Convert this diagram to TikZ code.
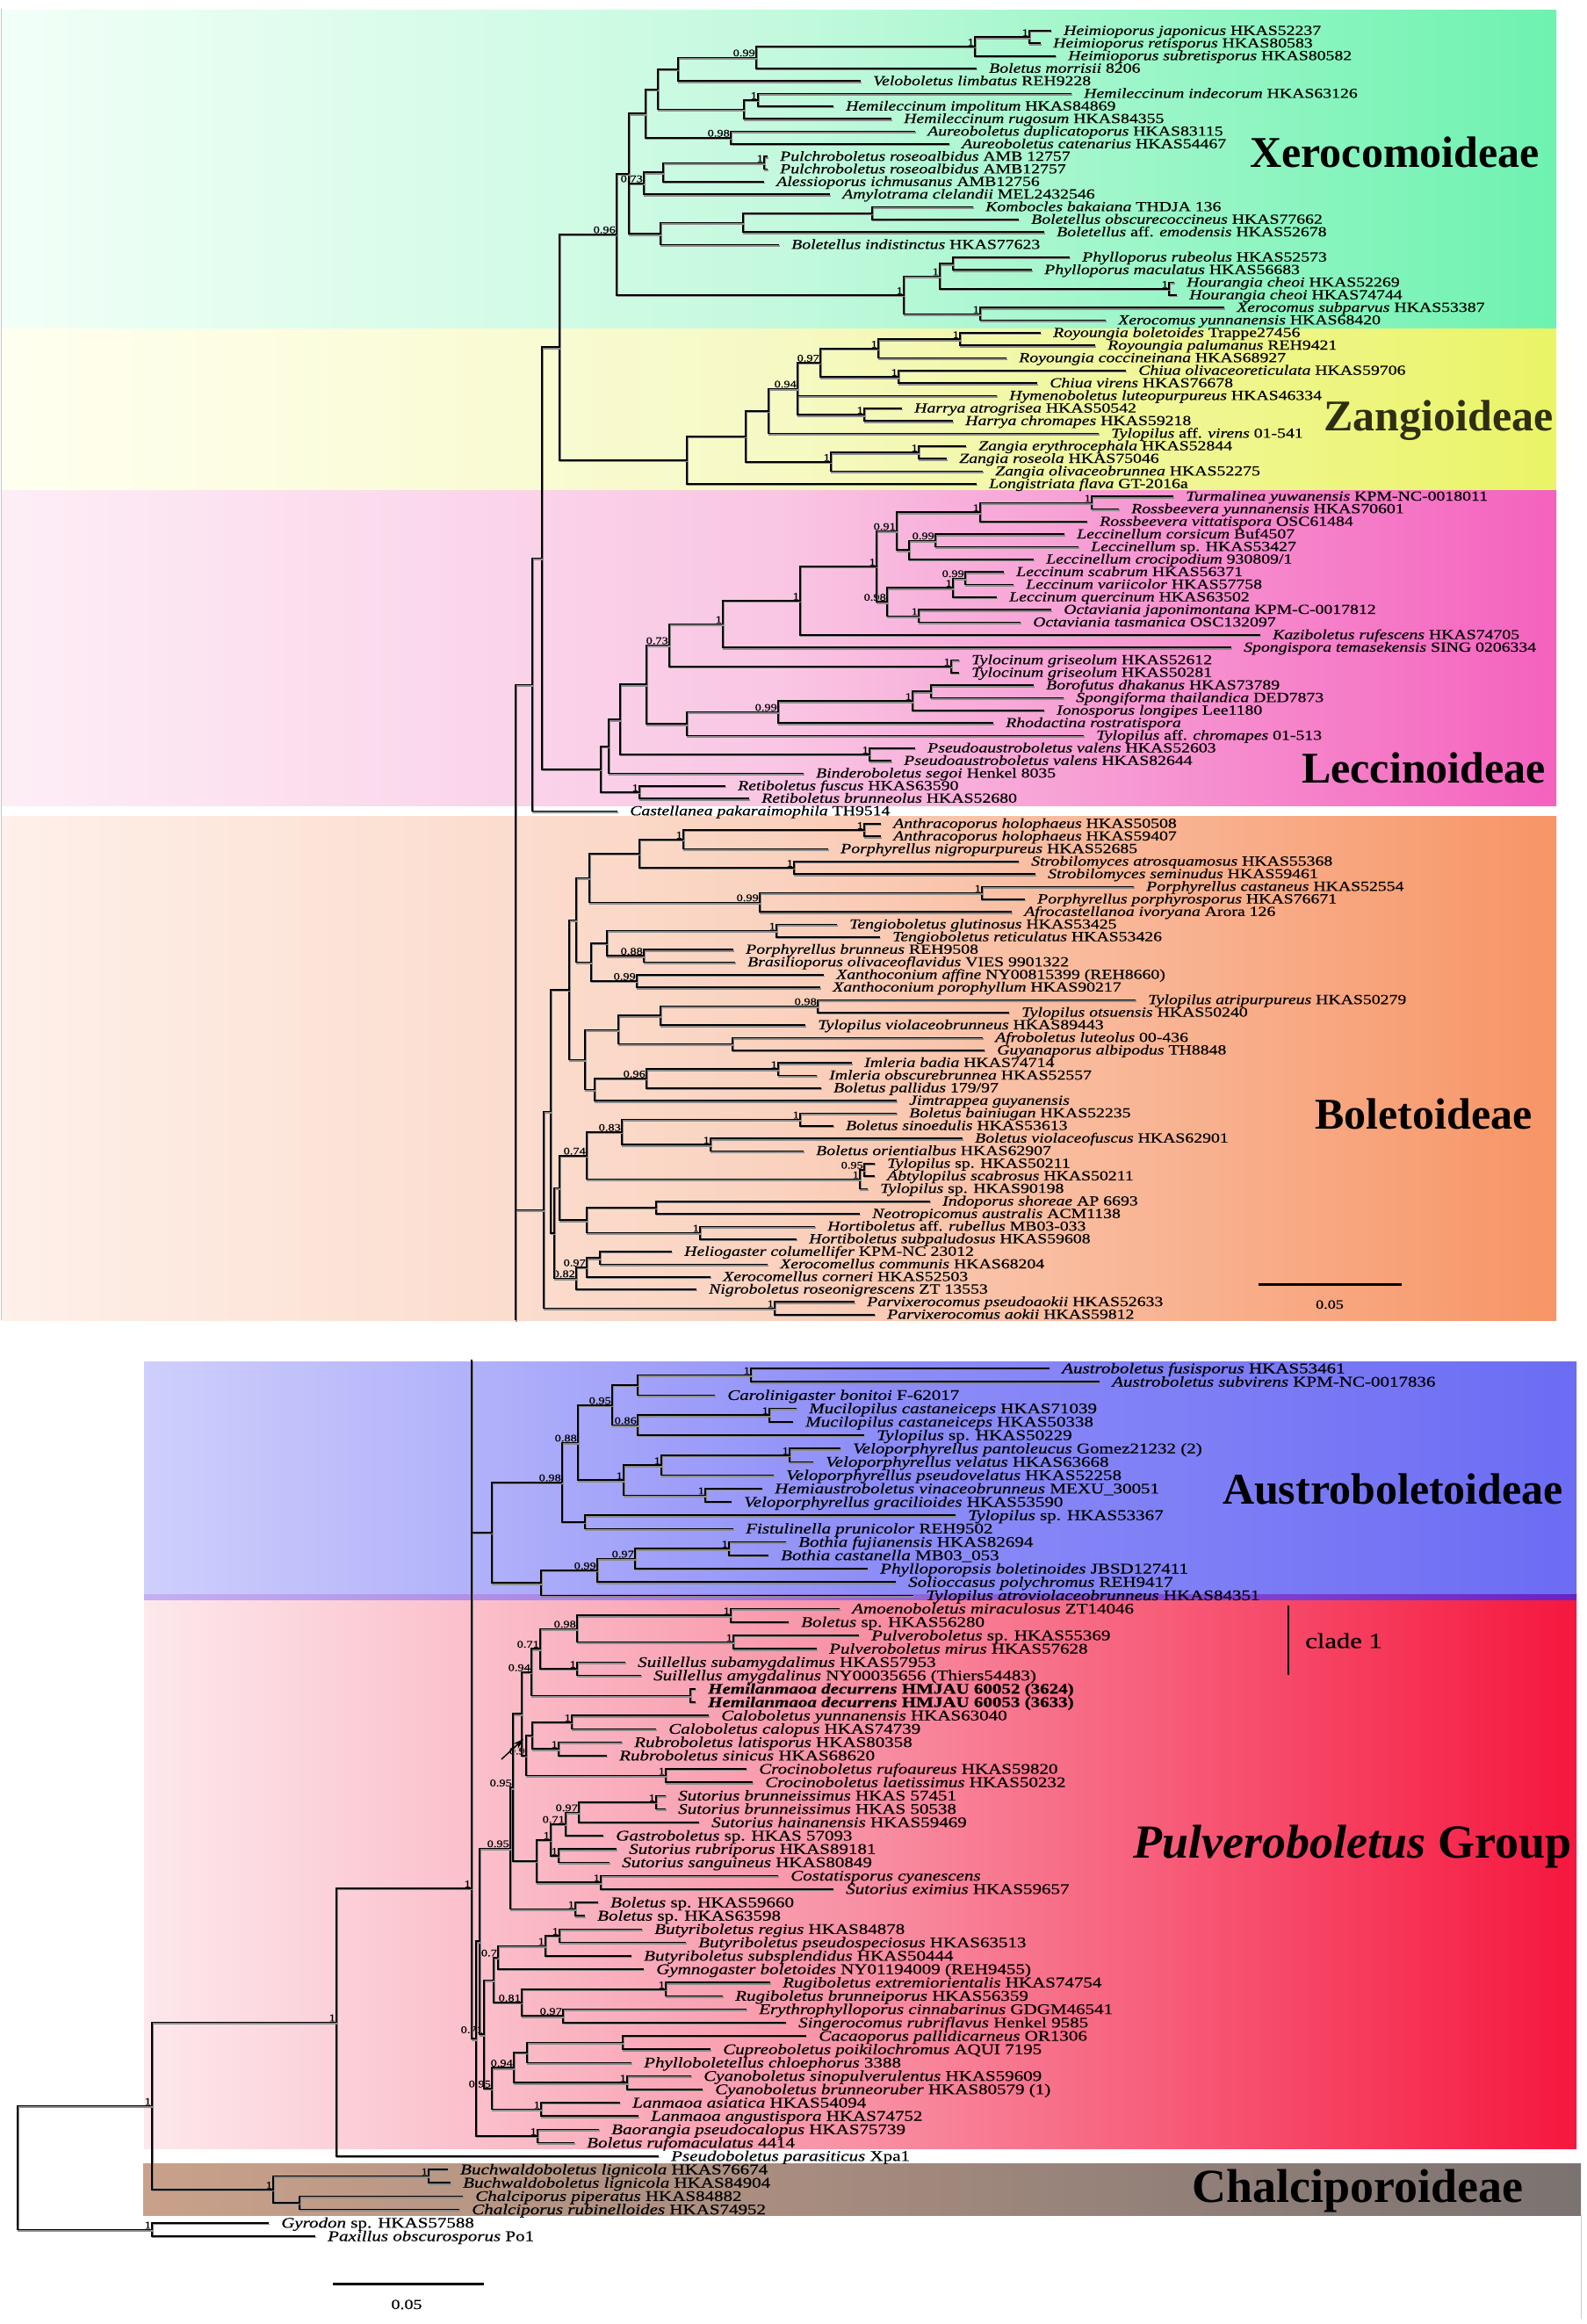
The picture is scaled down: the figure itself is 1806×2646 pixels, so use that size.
\documentclass[tikz,border=0pt]{standalone}
\usepackage{fontspec}
\setmainfont{Liberation Serif}
\newfontfamily\taxfont[FakeStretch=1.25,FakeBold=0.5]{Liberation Serif}
\usepackage{tikz}
\usetikzlibrary{arrows.meta,calc}
\definecolor{xeroL}{HTML}{F2FFF8}
\definecolor{xeroM}{HTML}{C4F9DE}
\definecolor{xeroR}{HTML}{6EF2B0}
\definecolor{zangL}{HTML}{FFFFF0}
\definecolor{zangM}{HTML}{F6F9C4}
\definecolor{zangR}{HTML}{EAF466}
\definecolor{lecL}{HTML}{FDEEF6}
\definecolor{lecM}{HTML}{F9C6E3}
\definecolor{lecR}{HTML}{F462BE}
\definecolor{boleL}{HTML}{FEF0EA}
\definecolor{boleM}{HTML}{FAD2BF}
\definecolor{boleR}{HTML}{F79566}
\definecolor{austL}{HTML}{CFCFFC}
\definecolor{austM}{HTML}{8E8EF8}
\definecolor{austR}{HTML}{6C6CF4}
\definecolor{pulvL}{HTML}{FDE8EC}
\definecolor{pulvM}{HTML}{F890A4}
\definecolor{pulvR}{HTML}{F5173E}
\definecolor{chalL}{HTML}{C9A18A}
\definecolor{chalM}{HTML}{A48A7E}
\definecolor{chalR}{HTML}{7B7371}
\definecolor{stripL}{HTML}{C4B0F2}
\definecolor{stripR}{HTML}{6A22C4}
\definecolor{zangtxt}{HTML}{2E2E12}

\newcommand\tipT[4]{%
  \coordinate (#1) at ({#2-14},{35+14.33*(#3-1)});
  \node[taxT] (#1lab) at (#2,{39.8+14.33*(#3-1)}) {#4};}
\newcommand\tipB[4]{%
  \coordinate (#1) at ({#2-14},{1558+15.2*(#3-1)});
  \node[taxB] (#1lab) at (#2,{1563.5+15.2*(#3-1)}) {#4};}
\newcommand\clade[5]{%
  \coordinate (#1m) at ($(#3)!.5!(#4)$);
  \coordinate (#1) at (#2,0 |- #1m);
  \draw[branch] (#3) -- (#1 |- #3) -- (#1 |- #4) -- (#4);
  \node[supp] (#1sup) at (#1) {#5};}
\newcommand\cladeiii[6]{%
  \coordinate (#1m) at ($(#3)!.5!(#5)$);
  \coordinate (#1) at (#2,0 |- #1m);
  \draw[branch] (#3) -- (#1 |- #3) -- (#1 |- #5) -- (#5);
  \draw[branch] (#1 |- #4) -- (#4);
  \node[supp] (#1sup) at (#1) {#6};}

\begin{document}
\begin{tikzpicture}[x=1pt,y=-1pt,
  branch/.style={black, line width=1.7pt,
    preaction={draw, black!45, line width=1.7pt, transform canvas={shift={(1.2,1.6)}}}},
  taxT/.style={anchor=base west, inner sep=0pt, font=\taxfont\fontsize{15.8}{15.8}\selectfont},
  taxB/.style={anchor=base west, inner sep=0pt, font=\taxfont\fontsize{16.8}{16.8}\selectfont},
  supp/.style={anchor=south east, inner sep=1pt, font=\taxfont\fontsize{11.5}{11.5}\selectfont},
  grp/.style={inner sep=0pt, font=\bfseries\fontsize{50}{50}\selectfont},
  scalebar/.style={black, line width=3pt}
]
\useasboundingbox (0,0) rectangle (1806,2646);
\fill[white] (0,0) rectangle (1806,2646);

% bands
\shade[left color=xeroL, right color=xeroR, middle color=xeroM] (2,12) rectangle (1772,374);
\shade[left color=zangL, right color=zangR, middle color=zangM] (2,374) rectangle (1772,558);
\shade[left color=lecL, right color=lecR, middle color=lecM] (2,558) rectangle (1772,917);
\shade[left color=boleL, right color=boleR, middle color=boleM] (2,929) rectangle (1772,1503);
\shade[left color=austL, right color=austR, middle color=austM] (164,1550) rectangle (1795,1817);
\shade[left color=stripL, right color=stripR] (164,1815) rectangle (1795,1822);
\shade[left color=pulvL, right color=pulvR, middle color=pulvM] (164,1822) rectangle (1795,2446);
\shade[left color=chalL, right color=chalR, middle color=chalM] (163,2463) rectangle (1800,2522);
\draw[gray!45, line width=1pt] (1,10) -- (1,1503);

% upper panel
\tipT{hj}{1211}{1}{\textit{Heimioporus japonicus} HKAS52237}
\tipT{hr}{1199}{2}{\textit{Heimioporus retisporus} HKAS80583}
\tipT{hs}{1216}{3}{\textit{Heimioporus subretisporus} HKAS80582}
\tipT{bm}{1126}{4}{\textit{Boletus morrisii} 8206}
\tipT{vl}{994}{5}{\textit{Veloboletus limbatus} REH9228}
\tipT{hi}{1234}{6}{\textit{Hemileccinum indecorum} HKAS63126}
\tipT{hm}{963}{7}{\textit{Hemileccinum impolitum} HKAS84869}
\tipT{hg}{1029}{8}{\textit{Hemileccinum rugosum} HKAS84355}
\tipT{ad}{1056}{9}{\textit{Aureoboletus duplicatoporus} HKAS83115}
\tipT{ac}{1095}{10}{\textit{Aureoboletus catenarius} HKAS54467}
\tipT{pa}{888}{11}{\textit{Pulchroboletus roseoalbidus} AMB 12757}
\tipT{pb}{888}{12}{\textit{Pulchroboletus roseoalbidus} AMB12757}
\tipT{ai}{884}{13}{\textit{Alessioporus ichmusanus} AMB12756}
\tipT{am}{959}{14}{\textit{Amylotrama clelandii} MEL2432546}
\tipT{kb}{1122}{15}{\textit{Kombocles bakaiana} THDJA 136}
\tipT{bo}{1174}{16}{\textit{Boletellus obscurecoccineus} HKAS77662}
\tipT{be}{1203}{17}{\textit{Boletellus} aff. \textit{emodensis} HKAS52678}
\tipT{bi}{901}{18}{\textit{Boletellus indistinctus} HKAS77623}
\tipT{pr}{1232}{19}{\textit{Phylloporus rubeolus} HKAS52573}
\tipT{pm}{1189}{20}{\textit{Phylloporus maculatus} HKAS56683}
\tipT{hca}{1351}{21}{\textit{Hourangia cheoi} HKAS52269}
\tipT{hcb}{1354}{22}{\textit{Hourangia cheoi} HKAS74744}
\tipT{xs}{1408}{23}{\textit{Xerocomus subparvus} HKAS53387}
\tipT{xy}{1273}{24}{\textit{Xerocomus yunnanensis} HKAS68420}
\tipT{rb}{1199}{25}{\textit{Royoungia boletoides} Trappe27456}
\tipT{rp}{1261}{26}{\textit{Royoungia palumanus} REH9421}
\tipT{rc}{1160}{27}{\textit{Royoungia coccineinana} HKAS68927}
\tipT{co}{1296}{28}{\textit{Chiua olivaceoreticulata} HKAS59706}
\tipT{cv}{1195}{29}{\textit{Chiua virens} HKAS76678}
\tipT{hl}{1149}{30}{\textit{Hymenoboletus luteopurpureus} HKAS46334}
\tipT{ha}{1041}{31}{\textit{Harrya atrogrisea} HKAS50542}
\tipT{hc}{1099}{32}{\textit{Harrya chromapes} HKAS59218}
\tipT{tv}{1265}{33}{\textit{Tylopilus} aff. \textit{virens} 01-541}
\tipT{ze}{1114}{34}{\textit{Zangia erythrocephala} HKAS52844}
\tipT{zr}{1092}{35}{\textit{Zangia roseola} HKAS75046}
\tipT{zo}{1133}{36}{\textit{Zangia olivaceobrunnea} HKAS52275}
\tipT{lf}{1126}{37}{\textit{Longistriata flava} GT-2016a}
\tipT{tu}{1350}{38}{\textit{Turmalinea yuwanensis} KPM-NC-0018011}
\tipT{ry}{1288}{39}{\textit{Rossbeevera yunnanensis} HKAS70601}
\tipT{rv}{1252}{40}{\textit{Rossbeevera vittatispora} OSC61484}
\tipT{lc}{1226}{41}{\textit{Leccinellum corsicum} Buf4507}
\tipT{ls}{1242}{42}{\textit{Leccinellum} sp. HKAS53427}
\tipT{lr}{1191}{43}{\textit{Leccinellum crocipodium} 930809/1}
\tipT{sc}{1157}{44}{\textit{Leccinum scabrum} HKAS56371}
\tipT{va}{1168}{45}{\textit{Leccinum variicolor} HKAS57758}
\tipT{qu}{1149}{46}{\textit{Leccinum quercinum} HKAS63502}
\tipT{oj}{1211}{47}{\textit{Octaviania japonimontana} KPM-C-0017812}
\tipT{ot}{1176}{48}{\textit{Octaviania tasmanica} OSC132097}
\tipT{kz}{1449}{49}{\textit{Kaziboletus rufescens} HKAS74705}
\tipT{st}{1416}{50}{\textit{Spongispora temasekensis} SING 0206334}
\tipT{tga}{1106}{51}{\textit{Tylocinum griseolum} HKAS52612}
\tipT{tgb}{1106}{52}{\textit{Tylocinum griseolum} HKAS50281}
\tipT{bd}{1191}{53}{\textit{Borofutus dhakanus} HKAS73789}
\tipT{sf}{1225}{54}{\textit{Spongiforma thailandica} DED7873}
\tipT{io}{1203}{55}{\textit{Ionosporus longipes} Lee1180}
\tipT{rh}{1145}{56}{\textit{Rhodactina rostratispora}}
\tipT{tc}{1248}{57}{\textit{Tylopilus} aff. \textit{chromapes} 01-513}
\tipT{pva}{1056}{58}{\textit{Pseudoaustroboletus valens} HKAS52603}
\tipT{pvb}{1029}{59}{\textit{Pseudoaustroboletus valens} HKAS82644}
\tipT{bs}{929}{60}{\textit{Binderoboletus segoi} Henkel 8035}
\tipT{rf}{840}{61}{\textit{Retiboletus fuscus} HKAS63590}
\tipT{rn}{867}{62}{\textit{Retiboletus brunneolus} HKAS52680}
\tipT{ca}{717}{63}{\textit{Castellanea pakaraimophila} TH9514}
\tipT{ana}{1017}{64}{\textit{Anthracoporus holophaeus} HKAS50508}
\tipT{anb}{1017}{65}{\textit{Anthracoporus holophaeus} HKAS59407}
\tipT{pn}{957}{66}{\textit{Porphyrellus nigropurpureus} HKAS52685}
\tipT{sa}{1174}{67}{\textit{Strobilomyces atrosquamosus} HKAS55368}
\tipT{ss}{1193}{68}{\textit{Strobilomyces seminudus} HKAS59461}
\tipT{pc}{1305}{69}{\textit{Porphyrellus castaneus} HKAS52554}
\tipT{pp}{1181}{70}{\textit{Porphyrellus porphyrosporus} HKAS76671}
\tipT{af}{1166}{71}{\textit{Afrocastellanoa ivoryana} Arora 126}
\tipT{tgl}{967}{72}{\textit{Tengioboletus glutinosus} HKAS53425}
\tipT{tre}{1016}{73}{\textit{Tengioboletus reticulatus} HKAS53426}
\tipT{pbr}{849}{74}{\textit{Porphyrellus brunneus} REH9508}
\tipT{bro}{851}{75}{\textit{Brasilioporus olivaceoflavidus} VIES 9901322}
\tipT{xa}{952}{76}{\textit{Xanthoconium affine} NY00815399 (REH8660)}
\tipT{xp}{948}{77}{\textit{Xanthoconium porophyllum} HKAS90217}
\tipT{ta}{1307}{78}{\textit{Tylopilus atripurpureus} HKAS50279}
\tipT{to}{1163}{79}{\textit{Tylopilus otsuensis} HKAS50240}
\tipT{tvb}{931}{80}{\textit{Tylopilus violaceobrunneus} HKAS89443}
\tipT{al}{1133}{81}{\textit{Afroboletus luteolus} 00-436}
\tipT{ga}{1135}{82}{\textit{Guyanaporus albipodus} TH8848}
\tipT{ib}{984}{83}{\textit{Imleria badia} HKAS74714}
\tipT{iob}{944}{84}{\textit{Imleria obscurebrunnea} HKAS52557}
\tipT{bp}{949}{85}{\textit{Boletus pallidus} 179/97}
\tipT{jg}{1035}{86}{\textit{Jimtrappea guyanensis}}
\tipT{bb}{1035}{87}{\textit{Boletus bainiugan} HKAS52235}
\tipT{bsi}{963}{88}{\textit{Boletus sinoedulis} HKAS53613}
\tipT{bv}{1110}{89}{\textit{Boletus violaceofuscus} HKAS62901}
\tipT{bor}{929}{90}{\textit{Boletus orientialbus} HKAS62907}
\tipT{tsa}{1010}{91}{\textit{Tylopilus} sp. HKAS50211}
\tipT{abs}{1010}{92}{\textit{Abtylopilus scabrosus} HKAS50211}
\tipT{tsb}{1002}{93}{\textit{Tylopilus} sp. HKAS90198}
\tipT{isr}{1073}{94}{\textit{Indoporus shoreae} AP 6693}
\tipT{na}{993}{95}{\textit{Neotropicomus australis} ACM1138}
\tipT{hru}{942}{96}{\textit{Hortiboletus} aff. \textit{rubellus} MB03-033}
\tipT{hsu}{921}{97}{\textit{Hortiboletus subpaludosus} HKAS59608}
\tipT{hel}{779}{98}{\textit{Heliogaster columellifer} KPM-NC 23012}
\tipT{xc}{888}{99}{\textit{Xerocomellus communis} HKAS68204}
\tipT{xco}{823}{100}{\textit{Xerocomellus corneri} HKAS52503}
\tipT{nr}{807}{101}{\textit{Nigroboletus roseonigrescens} ZT 13553}
\tipT{pxa}{987}{102}{\textit{Parvixerocomus pseudoaokii} HKAS52633}
\tipT{pxb}{1010}{103}{\textit{Parvixerocomus aokii} HKAS59812}

\clade{n1}{1172}{hj}{hr}{1}
\clade{n2}{1110}{n1}{hs}{1}
\clade{n3}{861}{n2}{bm}{0.99}
\clade{n4}{772}{n3}{vl}{}
\clade{n5}{863}{hi}{hm}{1}
\clade{n6}{847}{n5}{hg}{}
\clade{n7}{749}{n4}{n6}{}
\clade{n8}{832}{ad}{ac}{0.98}
\clade{n9}{735}{n7}{n8}{}
\clade{n10}{870}{pa}{pb}{1}
\clade{n11}{755}{n10}{ai}{}
\clade{n12}{733}{n11}{am}{0.73}
\clade{n13}{993}{kb}{bo}{}
\clade{n14}{846}{n13}{be}{}
\clade{n15}{752}{n14}{bi}{}
\cladeiii{n16}{716}{n9}{n12}{n15}{}
\clade{n17}{1085}{pr}{pm}{}
\clade{n19}{1331}{hca}{hcb}{1}
\clade{n18}{1070}{n17}{n19}{1}
\clade{n20}{1116}{xs}{xy}{1}
\clade{n21}{1029}{n18}{n20}{1}
\clade{n22}{702}{n16}{n21}{0.96}
\clade{z1}{1093}{rb}{rp}{1}
\clade{z2}{1000}{z1}{rc}{1}
\clade{z3}{1023}{co}{cv}{1}
\clade{z4}{934}{z2}{z3}{0.97}
\clade{z5}{984}{ha}{hc}{1}
\cladeiii{z6}{908}{z4}{hl}{z5}{0.94}
\clade{z7}{875}{z6}{tv}{}
\clade{z8}{1046}{ze}{zr}{1}
\clade{z9}{946}{z8}{zo}{1}
\clade{z10}{849}{z7}{z9}{}
\clade{z11}{782}{z10}{lf}{}
\clade{x1}{637}{n22}{z11}{}
\clade{l1}{1243}{tu}{ry}{1}
\clade{l2}{1116}{l1}{rv}{1}
\clade{l3}{1065}{lc}{ls}{0.99}
\clade{l4}{1035}{l3}{lr}{}
\clade{l5}{1021}{l2}{l4}{0.91}
\clade{l6}{1099}{sc}{va}{0.99}
\clade{l7}{1085}{l6}{qu}{1}
\clade{l8}{1046}{oj}{ot}{1}
\clade{l9}{1010}{l7}{l8}{0.98}
\clade{l10}{998}{l5}{l9}{1}
\clade{l11}{911}{l10}{kz}{1}
\clade{l12}{823}{l11}{st}{1}
\clade{l13}{1083}{tga}{tgb}{1}
\clade{l14}{762}{l12}{l13}{0.73}
\clade{l15}{1060}{bd}{sf}{}
\clade{l16}{1039}{l15}{io}{1}
\clade{l17}{886}{l16}{rh}{0.99}
\clade{l18}{782}{l17}{tc}{}
\clade{l19}{736}{l14}{l18}{}
\clade{l20}{990}{pva}{pvb}{1}
\clade{l21}{706}{l19}{l20}{}
\clade{l22}{728}{rf}{rn}{1}
\clade{l23}{693}{l21}{bs}{}
\clade{l24}{684}{l23}{l22}{}
\clade{x2}{617}{x1}{l24}{}
\clade{x3}{606}{x2}{ca}{}
\clade{b1}{984}{ana}{anb}{1}
\clade{b2}{778}{b1}{pn}{1}
\clade{b3}{904}{sa}{ss}{1}
\clade{b4}{728}{b2}{b3}{}
\clade{b5}{1118}{pc}{pp}{1}
\clade{b6}{865}{b5}{af}{0.99}
\clade{b7}{671}{b4}{b6}{}
\clade{b8}{884}{tgl}{tre}{1}
\clade{b9}{733}{pbr}{bro}{0.88}
\clade{b10}{725}{xa}{xp}{0.99}
\clade{b11}{691}{b8}{b9}{}
\clade{b12}{673}{b11}{b10}{}
\clade{b14}{931}{ta}{to}{0.98}
\clade{b15}{752}{b14}{tvb}{}
\clade{b16}{834}{al}{ga}{}
\clade{b17}{704}{b15}{b16}{}
\clade{b18}{886}{ib}{iob}{1}
\clade{b19}{736}{b18}{bp}{0.96}
\clade{b20}{677}{b19}{jg}{}
\clade{b21}{666}{b17}{b20}{}
\clade{b22}{656}{b7}{b12}{}
\clade{b23}{648}{b22}{b21}{}
\clade{b24}{911}{bb}{bsi}{1}
\clade{b25}{809}{bv}{bor}{1}
\clade{b26}{708}{b24}{b25}{0.83}
\clade{b27}{984}{tsa}{abs}{0.95}
\clade{b28}{979}{b27}{tsb}{1}
\clade{b29}{668}{b26}{b28}{0.74}
\clade{b30}{747}{isr}{na}{}
\clade{b31}{797}{hru}{hsu}{1}
\clade{b32}{668}{b30}{b31}{}
\clade{b33}{637}{b29}{b32}{}
\clade{b34}{683}{hel}{xc}{}
\clade{b35}{668}{b34}{xco}{0.97}
\clade{b36}{656}{b35}{nr}{0.82}
\clade{b37}{631}{b33}{b36}{}
\clade{b38}{627}{b23}{b37}{}
\clade{b39}{882}{pxa}{pxb}{1}
\clade{b40}{619}{b38}{b39}{}
\clade{tr}{587}{x3}{b40}{}
\coordinate (topcut) at (587,1503);
\draw[branch] (tr |- b40) -- (topcut);

\draw[scalebar] (1433,1462) coordinate (sbu1) -- (1596,1462) coordinate (sbu2);
\node[anchor=base, inner sep=0pt, font=\taxfont\fontsize{14.5}{14.5}\selectfont] (sbulab) at (1514,1490) {0.05};

% lower panel
\tipB{afu}{1209}{1}{\textit{Austroboletus fusisporus} HKAS53461}
\tipB{asu}{1266}{2}{\textit{Austroboletus subvirens} KPM-NC-0017836}
\tipB{cb}{828}{3}{\textit{Carolinigaster bonitoi} F-62017}
\tipB{mca}{921}{4}{\textit{Mucilopilus castaneiceps} HKAS71039}
\tipB{mcb}{917}{5}{\textit{Mucilopilus castaneiceps} HKAS50338}
\tipB{tya}{998}{6}{\textit{Tylopilus} sp. HKAS50229}
\tipB{vpa}{971}{7}{\textit{Veloporphyrellus pantoleucus} Gomez21232 (2)}
\tipB{vve}{940}{8}{\textit{Veloporphyrellus velatus} HKAS63668}
\tipB{vps}{895}{9}{\textit{Veloporphyrellus pseudovelatus} HKAS52258}
\tipB{hvi}{882}{10}{\textit{Hemiaustroboletus vinaceobrunneus} MEXU\_30051}
\tipB{vgr}{847}{11}{\textit{Veloporphyrellus gracilioides} HKAS53590}
\tipB{tyb}{1102}{12}{\textit{Tylopilus} sp. HKAS53367}
\tipB{fpr}{849}{13}{\textit{Fistulinella prunicolor} REH9502}
\tipB{bfu}{909}{14}{\textit{Bothia fujianensis} HKAS82694}
\tipB{bca}{889}{15}{\textit{Bothia castanella} MB03\_053}
\tipB{pbo}{1002}{16}{\textit{Phylloporopsis boletinoides} JBSD127411}
\tipB{spo}{1034}{17}{\textit{Solioccasus polychromus} REH9417}
\tipB{tat}{1054}{18}{\textit{Tylopilus atroviolaceobrunneus} HKAS84351}
\tipB{amo}{970}{19}{\textit{Amoenoboletus miraculosus} ZT14046}
\tipB{bsa}{912}{20}{\textit{Boletus} sp. HKAS56280}
\tipB{pus}{992}{21}{\textit{Pulveroboletus} sp. HKAS55369}
\tipB{pmi}{944}{22}{\textit{Pulveroboletus mirus} HKAS57628}
\tipB{ssu}{726}{23}{\textit{Suillellus subamygdalimus} HKAS57953}
\tipB{sam}{744}{24}{\textit{Suillellus amygdalinus} NY00035656 (Thiers54483)}
\tipB{hda}{806}{25}{\textbf{\textit{Hemilanmaoa decurrens} HMJAU 60052 (3624)}}
\tipB{hdb}{806}{26}{\textbf{\textit{Hemilanmaoa decurrens} HMJAU 60053 (3633)}}
\tipB{cy}{821}{27}{\textit{Caloboletus yunnanensis} HKAS63040}
\tipB{cc}{761}{28}{\textit{Caloboletus calopus} HKAS74739}
\tipB{rl}{722}{29}{\textit{Rubroboletus latisporus} HKAS80358}
\tipB{rs}{705}{30}{\textit{Rubroboletus sinicus} HKAS68620}
\tipB{cr}{864}{31}{\textit{Crocinoboletus rufoaureus} HKAS59820}
\tipB{cl}{871}{32}{\textit{Crocinoboletus laetissimus} HKAS50232}
\tipB{sba}{772}{33}{\textit{Sutorius brunneissimus} HKAS 57451}
\tipB{sbb}{772}{34}{\textit{Sutorius brunneissimus} HKAS 50538}
\tipB{sh}{810}{35}{\textit{Sutorius hainanensis} HKAS59469}
\tipB{gs}{701}{36}{\textit{Gastroboletus} sp. HKAS 57093}
\tipB{sr}{716}{37}{\textit{Sutorius rubriporus} HKAS89181}
\tipB{ssa}{708}{38}{\textit{Sutorius sanguineus} HKAS80849}
\tipB{cs}{900}{39}{\textit{Costatisporus cyanescens}}
\tipB{se}{963}{40}{\textit{Sutorius eximius} HKAS59657}
\tipB{bsb}{695}{41}{\textit{Boletus} sp. HKAS59660}
\tipB{bsc}{680}{42}{\textit{Boletus} sp. HKAS63598}
\tipB{br}{745}{43}{\textit{Butyriboletus regius} HKAS84878}
\tipB{bps}{795}{44}{\textit{Butyriboletus pseudospeciosus} HKAS63513}
\tipB{bss}{733}{45}{\textit{Butyriboletus subsplendidus} HKAS50444}
\tipB{gb}{747}{46}{\textit{Gymnogaster boletoides} NY01194009 (REH9455)}
\tipB{re}{891}{47}{\textit{Rugiboletus extremiorientalis} HKAS74754}
\tipB{rbr}{837}{48}{\textit{Rugiboletus brunneiporus} HKAS56359}
\tipB{ec}{864}{49}{\textit{Erythrophylloporus cinnabarinus} GDGM46541}
\tipB{sru}{909}{50}{\textit{Singerocomus rubriflavus} Henkel 9585}
\tipB{cp}{932}{51}{\textit{Cacaoporus pallidicarneus} OR1306}
\tipB{cup}{823}{52}{\textit{Cupreoboletus poikilochromus} AQUI 7195}
\tipB{pch}{733}{53}{\textit{Phylloboletellus chloephorus} 3388}
\tipB{cys}{801}{54}{\textit{Cyanoboletus sinopulverulentus} HKAS59609}
\tipB{cyb}{814}{55}{\textit{Cyanoboletus brunneoruber} HKAS80579 (1)}
\tipB{la}{720}{56}{\textit{Lanmaoa asiatica} HKAS54094}
\tipB{lan}{741}{57}{\textit{Lanmaoa angustispora} HKAS74752}
\tipB{bpc}{696}{58}{\textit{Baorangia pseudocalopus} HKAS75739}
\tipB{bru}{668}{59}{\textit{Boletus rufomaculatus} 4414}
\tipB{pbp}{764}{60}{\textit{Pseudoboletus parasiticus} Xpa1}
\tipB{bla}{524}{61}{\textit{Buchwaldoboletus lignicola} HKAS76674}
\tipB{blb}{527}{62}{\textit{Buchwaldoboletus lignicola} HKAS84904}
\tipB{cpi}{541}{63}{\textit{Chalciporus piperatus} HKAS84882}
\tipB{cru}{537}{64}{\textit{Chalciporus rubinelloides} HKAS74952}
\tipB{gy}{320}{65}{\textit{Gyrodon} sp. HKAS57588}
\tipB{pob}{373}{66}{\textit{Paxillus obscurosporus} Po1}

\clade{a1}{855}{afu}{asu}{1}
\clade{a2}{726}{a1}{cb}{}
\clade{a3}{876}{mca}{mcb}{1}
\clade{a4}{726}{a3}{tya}{0.86}
\clade{a5}{697}{a2}{a4}{0.95}
\clade{a6}{899}{vpa}{vve}{1}
\clade{a7}{753}{a6}{vps}{1}
\clade{a8}{803}{hvi}{vgr}{1}
\clade{a9}{710}{a7}{a8}{1}
\clade{a10}{658}{a5}{a9}{0.88}
\clade{a11}{666}{tyb}{fpr}{}
\clade{a12}{640}{a10}{a11}{0.98}
\clade{a13}{830}{bfu}{bca}{1}
\clade{a14}{723}{a13}{pbo}{0.97}
\clade{a15}{680}{a14}{spo}{0.99}
\clade{a16}{616}{a15}{tat}{}
\clade{a17}{560}{a12}{a16}{}
\clade{p1}{832}{amo}{bsa}{1}
\clade{p2}{835}{pus}{pmi}{1}
\clade{p3}{657}{p1}{p2}{0.98}
\clade{p4}{657}{ssu}{sam}{1}
\clade{p5}{615}{p3}{p4}{0.71}
\clade{p6}{786}{hda}{hdb}{}
\clade{p7}{605}{p5}{p6}{0.94}
\clade{p8}{651}{cy}{cc}{1}
\clade{p9}{636}{rl}{rs}{1}
\clade{p10}{606}{p8}{p9}{}
\clade{p11}{758}{cr}{cl}{1}
\clade{p12}{599}{p10}{p11}{0.9}
\clade{p13}{594}{p7}{p12}{}
\clade{p14}{747}{sba}{sbb}{1}
\clade{p15}{659}{p14}{sh}{0.97}
\clade{p16}{644}{p15}{gs}{0.71}
\clade{p17}{636}{sr}{ssa}{1}
\clade{p18}{627}{p16}{p17}{1}
\clade{p19}{684}{cs}{se}{1}
\clade{p20}{611}{p18}{p19}{}
\clade{p21}{584}{p13}{p20}{0.95}
\clade{p22}{655}{bsb}{bsc}{1}
\clade{p23}{581}{p21}{p22}{0.95}
\clade{p24}{637}{br}{bps}{1}
\clade{p25}{621}{p24}{bss}{1}
\clade{p26}{567}{p25}{gb}{0.7}
\clade{p27}{758}{re}{rbr}{1}
\clade{p28}{641}{ec}{sru}{0.97}
\clade{p29}{594}{p27}{p28}{0.81}
\clade{p30}{562}{p26}{p29}{}
\clade{p31}{709}{cp}{cup}{}
\clade{p32}{600}{p31}{pch}{}
\clade{p33}{714}{cys}{cyb}{1}
\clade{p34}{585}{p32}{p33}{0.94}
\clade{p35}{616}{la}{lan}{1}
\clade{p36}{560}{p34}{p35}{0.95}
\clade{p38}{551}{p30}{p36}{0.71}
\clade{p39}{546}{p23}{p38}{}
\clade{p37}{612}{bpc}{bru}{1}
\clade{pg}{542}{p39}{p37}{}
\coordinate (ap) at (537,2150);
\coordinate (aptop) at (537,1548);
\draw[branch] (aptop) -- (ap |- pg) -- (pg);
\draw[branch] (ap |- a17) -- (a17);
\node[supp] (apsup) at (ap) {1};
\clade{nps}{383}{ap}{pbp}{1}
\clade{c1}{488}{bla}{blb}{1}
\clade{c2}{341}{cpi}{cru}{}
\clade{c3}{311}{c1}{c2}{1}
\clade{ig}{173}{nps}{c3}{1}
\clade{og}{173}{gy}{pob}{1}
\clade{root}{20}{ig}{og}{}

\coordinate (arrS) at (571,2003);
\coordinate (arrE) at (596,1980);
\draw[-{Stealth[length=12pt,width=8pt]}, line width=1.5pt] (arrS) -- (arrE);

\coordinate (cla) at (1467,1828);
\coordinate (clb) at (1467,1907);
\draw[line width=1.3pt] (cla) -- (clb);
\node[anchor=west, inner sep=0pt, font=\taxfont\fontsize{24.5}{24.5}\selectfont] (cladelab) at (1486,1868) {clade 1};

\draw[scalebar] (379,2600) coordinate (sbl1) -- (551,2600) coordinate (sbl2);
\node[anchor=base, inner sep=0pt, font=\taxfont\fontsize{16}{16}\selectfont] (sbllab) at (463,2629) {0.05};
\draw[gray!40, line width=1pt] (1800,2522) -- (1800,2640);

% group names
\node[grp] (gxero) at (1588,173) {Xerocomoideae};
\node[grp, text=zangtxt] (gzang) at (1638,479) {Zangioideae};
\node[grp] (glecc) at (1621,874) {Leccinoideae};
\node[grp] (gbole) at (1621,1268) {Boletoideae};
\node[grp] (gaust) at (1586,1695) {Austroboletoideae};
\node[grp, font=\bfseries\fontsize{54}{54}\selectfont] (gpulv) at (1540,2102) {\textit{Pulveroboletus} Group};
\node[grp, font=\bfseries\fontsize{54}{54}\selectfont] (gchal) at (1546,2494) {Chalciporoideae};
\end{tikzpicture}
\end{document}
